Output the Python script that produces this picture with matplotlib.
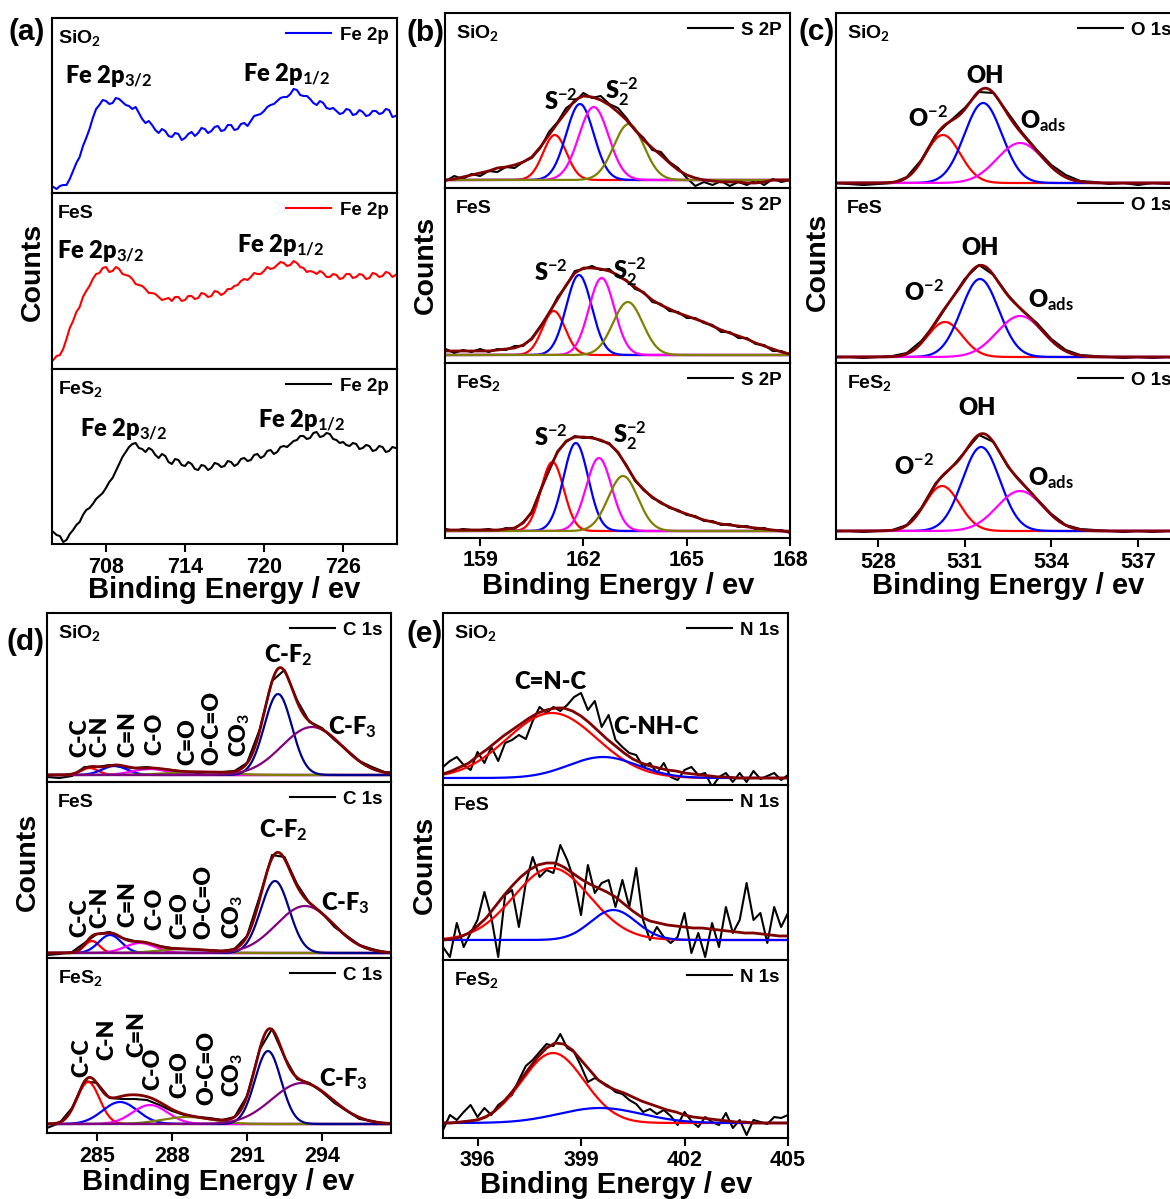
import numpy as np
import matplotlib.pyplot as plt

plt.rcParams['font.family'] = ['Liberation Sans', 'DejaVu Sans']
plt.rcParams['font.weight'] = 'bold'
plt.rcParams['mathtext.fontset'] = 'custom'
plt.rcParams['mathtext.rm'] = 'Lato:bold'
plt.rcParams['mathtext.it'] = 'Lato:bold'
plt.rcParams['mathtext.bf'] = 'Lato:bold'
plt.rcParams['axes.linewidth'] = 1.5

# ---------------- (a) Fe 2p raw spectra ----------------
fe_energy = np.arange(704, 730.01, 0.25)
fe_sio2 = [6, 4, 7, 8, 8, 14, 22, 30, 36, 47, 55, 64, 75, 84, 88, 93, 92, 89, 90, 95,
           94, 91, 88, 87, 84, 86, 80, 74, 70, 72, 68, 63, 60, 64, 62, 57, 56, 60, 59, 53,
           55, 59, 61, 57, 60, 65, 64, 60, 62, 66, 67, 62, 63, 68, 68, 63, 64, 69, 70, 67,
           72, 77, 78, 79, 82, 86, 88, 89, 92, 95, 96, 96, 99, 104, 103, 98, 97, 97, 94, 90,
           88, 92, 90, 85, 84, 85, 82, 79, 80, 84, 83, 78, 79, 83, 81, 77, 78, 82, 82, 79,
           80, 84, 83, 76, 77]
fe_fes = [9, 13, 14, 20, 30, 41, 48, 57, 62, 72, 78, 83, 90, 95, 96, 101, 102, 97, 98, 102,
          100, 95, 94, 93, 90, 85, 84, 83, 80, 76, 76, 75, 72, 69, 70, 71, 68, 72, 72, 68,
          69, 73, 73, 70, 71, 76, 75, 72, 73, 78, 77, 74, 76, 80, 80, 83, 84, 88, 90, 89,
          92, 96, 95, 95, 98, 102, 100, 101, 104, 107, 106, 103, 104, 108, 106, 102, 101, 97, 98, 97,
          95, 98, 96, 92, 92, 95, 94, 90, 91, 95, 95, 91, 92, 95, 94, 90, 91, 96, 95, 92,
          93, 97, 96, 92, 94]
fe_fes2 = [12, 9, 8, 2, 4, 10, 14, 19, 22, 29, 34, 36, 40, 45, 48, 51, 56, 62, 66, 73,
           80, 87, 92, 97, 100, 101, 96, 95, 92, 96, 94, 89, 86, 90, 88, 82, 80, 85, 84, 79,
           78, 82, 80, 75, 74, 79, 78, 74, 76, 81, 80, 77, 78, 83, 82, 78, 80, 85, 86, 83,
           84, 89, 90, 86, 88, 93, 94, 90, 92, 97, 98, 97, 100, 103, 104, 108, 108, 105, 106, 111,
           112, 107, 108, 111, 110, 105, 104, 101, 102, 99, 98, 101, 100, 95, 96, 99, 98, 93, 94, 98,
           97, 92, 93, 97, 96]

# ---------------- (b) S 2p ----------------
s_energy = np.arange(158, 168.01, 0.25)
s_raw_sio2 = [7, 12, 9, 14, 12, 17, 16, 21, 20, 26, 30, 40, 56, 66, 80, 86, 95, 90, 92, 84,
              80, 70, 58, 50, 38, 36, 26, 20, 10, 2, 6, 3, 7, 2, 6, 3, 8, 3, 9, 6, 8]
s_env_sio2 = [8, 9, 11, 13, 15, 17, 20, 21, 23, 26, 31, 41, 53, 65, 76, 88, 92, 91, 88, 83,
              76, 68, 58, 48, 40, 33, 25, 18, 13, 10, 8, 7, 6, 6, 6, 5, 5, 6, 8, 8, 8]
s_raw_fes = [14, 10, 13, 11, 14, 11, 14, 13, 17, 17, 25, 37, 49, 66, 77, 92, 94, 97, 93, 94,
             86, 83, 74, 71, 61, 59, 52, 51, 45, 45, 40, 38, 31, 31, 25, 25, 19, 18, 12, 12, 8]
s_env_fes = [12, 12, 12, 12, 12, 12, 13, 14, 15, 18, 24, 36, 50, 64, 78, 90, 95, 95, 94, 92,
             88, 82, 76, 70, 63, 58, 54, 50, 47, 44, 41, 37, 33, 30, 27, 24, 20, 17, 14, 11, 9]
s_raw_fes2 = [9, 7, 9, 8, 8, 9, 7, 10, 9, 16, 25, 48, 67, 87, 96, 102, 100, 101, 97, 95,
              85, 73, 57, 49, 40, 36, 30, 28, 23, 22, 17, 17, 13, 14, 11, 12, 9, 10, 7, 8, 5]
s_env_fes2 = [8, 8, 8, 8, 8, 8, 8, 9, 10, 15, 26, 47, 68, 86, 97, 101, 101, 100, 98, 94,
              86, 72, 58, 48, 41, 35, 31, 27, 24, 21, 18, 16, 14, 13, 12, 11, 10, 9, 8, 7, 6]
# fitted peaks: red, blue, magenta, olive
s_base = [8, 8, 7]
s_centers_sio2 = [161.17, 161.9, 162.3, 163.32]
s_heights_sio2 = [45, 76, 73, 56]
s_widths_sio2 = [0.34, 0.40, 0.43, 0.44]
s_centers_fes = [161.14, 161.87, 162.53, 163.29]
s_heights_fes = [44, 80, 77, 53]
s_widths_fes = [0.33, 0.37, 0.37, 0.43]
s_centers_fes2 = [161.1, 161.78, 162.45, 163.15]
s_heights_fes2 = [69, 88, 73, 55]
s_widths_fes2 = [0.33, 0.36, 0.37, 0.43]

# ---------------- (c) O 1s ----------------
o_energy = np.arange(526.5, 539.01, 0.5)
o_raw_sio2 = [5, 4, 3, 4, 5, 11, 28, 53, 67, 80, 96, 95, 75, 55, 38, 23, 13, 7, 6, 4, 5, 3, 5, 4, 5, 5]
o_raw_fes = [6, 6, 5, 6, 7, 10, 22, 40, 62, 84, 98, 88, 68, 52, 40, 24, 13, 8, 7, 6, 5, 6, 5, 6, 5, 6]
o_raw_fes2 = [8, 8, 7, 8, 9, 14, 31, 56, 70, 87, 104, 97, 72, 56, 40, 25, 14, 10, 9, 8, 7, 8, 7, 8, 8, 7]
# fitted peaks: red (O-2), blue (OH), magenta (Oads)
o_base = [5, 6, 8]
o_centers_sio2 = [530.25, 531.64, 532.92]
o_heights_sio2 = [48, 80, 40]
o_centers_fes = [530.32, 531.53, 532.92]
o_heights_fes = [35, 78, 41]
o_centers_fes2 = [530.22, 531.57, 532.92]
o_heights_fes2 = [45, 84, 40]
o_widths = [0.6, 0.65, 0.8]

# ---------------- (d) C 1s ----------------
c_energy = np.arange(283, 297.01, 0.5)
c_raw_sio2 = [5, 4, 6, 15, 15, 17, 15, 14, 15, 13, 12, 10, 9, 10, 10, 11, 19, 52, 101, 112,
              82, 60, 54, 42, 32, 21, 15, 10, 9]
c_raw_fes = [3, 4, 6, 15, 24, 26, 20, 17, 15, 12, 10, 9, 8, 8, 7, 9, 22, 61, 103, 101,
             74, 55, 45, 31, 22, 13, 9, 6, 5]
c_raw_fes2 = [5, 10, 25, 52, 50, 35, 34, 34, 33, 28, 22, 18, 16, 15, 13, 16, 37, 83, 104, 76,
              54, 50, 41, 30, 22, 14, 12, 9, 10]
# fitted peaks: red, blue, magenta, olive, navy (C-F2), purple (C-F3)
c_base = [7, 5, 9]
c_centers_sio2 = [284.7, 285.7, 287.1, 289.0, 292.24, 293.6]
c_heights_sio2 = [7, 9, 6, 3, 81, 48]
c_widths_sio2 = [0.35, 0.5, 0.7, 1.2, 0.55, 1.2]
c_centers_fes = [284.8, 285.52, 286.72, 288.5, 292.12, 293.32]
c_heights_fes = [12, 18, 10, 4, 72, 47]
c_widths_fes = [0.3, 0.45, 0.6, 1.0, 0.57, 1.15]
c_centers_fes2 = [284.65, 285.92, 287.12, 288.6, 291.84, 293.2]
c_heights_fes2 = [42, 22, 19, 7, 73, 41]
c_widths_fes2 = [0.45, 0.7, 0.7, 1.0, 0.52, 1.2]

# ---------------- (e) N 1s ----------------
n_energy = np.arange(395, 405.01, 0.2)
n_raw_sio2 = [18, 24, 28, 20, 15, 33, 22, 38, 24, 42, 45, 50, 46, 64, 78, 72, 78, 74, 80, 88,
              92, 75, 84, 58, 70, 45, 38, 32, 30, 18, 22, 12, 22, 8, 5, 15, 18, 10, 12, -2,
              8, 12, 3, 12, 3, 14, 6, 9, 12, 5, 10]
n_raw_fes = [13, 3, 37, 13, 27, 40, 68, 43, 3, 65, 70, 33, 77, 103, 83, 90, 87, 115, 100, 80,
             45, 95, 67, 77, 80, 53, 80, 53, 92, 40, 20, 33, 23, 17, 23, 47, 7, 27, 3, 37,
             13, 53, 27, 40, 77, 40, 47, 17, 53, 33, 47]
n_raw_fes2 = [8, 23, 18, 26, 33, 21, 30, 23, 33, 38, 43, 58, 72, 78, 86, 94, 92, 104, 90, 86,
              72, 56, 60, 56, 52, 46, 44, 38, 34, 26, 29, 24, 28, 22, 13, 26, 17, 11, 21, 16,
              13, 25, 10, 18, 3, 18, 16, 14, 21, 20, 23]
n_env_energy = np.arange(395, 405.01, 0.25)
n_env_sio2 = [11, 14, 18, 22, 29, 35, 42, 49, 55, 61, 67, 72, 75, 77, 77, 74, 69, 62, 54, 46,
              39, 32, 26, 22, 19, 17, 15, 14, 12, 11, 10, 9, 8, 8, 7, 7, 7, 7, 7, 7, 7]
n_env_fes = [20, 21, 23, 27, 34, 42, 53, 64, 74, 83, 90, 95, 97, 97, 93, 87, 81, 76, 72, 68,
             63, 56, 49, 43, 39, 37, 35, 34, 33, 32, 32, 31, 30, 29, 28, 27, 27, 26, 25, 24, 24]
n_env_fes2 = [15, 15, 16, 17, 18, 21, 27, 36, 46, 58, 70, 81, 90, 95, 94, 88, 78, 68, 58, 52,
              48, 45, 41, 37, 34, 31, 28, 26, 23, 21, 20, 19, 18, 17, 16, 16, 15, 15, 15, 15, 15]
# fitted peaks: red (C=N-C), blue (C-NH-C)
n_base = [7, 20, 15]
n_centers_sio2 = [398.16, 399.64]
n_heights_sio2 = [65, 21]
n_widths_sio2 = [1.3, 1.0]
n_centers_fes = [398.15, 399.94]
n_heights_fes = [72, 30]
n_widths_fes = [1.1, 0.66]
n_centers_fes2 = [398.19, 399.55]
n_heights_fes2 = [70, 15]
n_widths_fes2 = [0.9, 1.2]

samples = ['SiO$_2$', 'FeS', 'FeS$_2$']
brown = '#800000'

W, H = 1170, 1199
fig = plt.figure(figsize=(W / 100, H / 100), dpi=100)


def column(left, right, ys, xlim, ticks):
    axs = []
    for i, (top, bot) in enumerate(zip(ys[:-1], ys[1:])):
        ax = fig.add_axes([left / W, 1 - bot / H, (right - left) / W, (bot - top) / H])
        ax.set_xlim(*xlim)
        ax.set_ylim(0, bot - top)
        ax.set_yticks([])
        ax.set_xticks(ticks)
        last = i == 2
        ax.tick_params(axis='x', direction='out', length=6, width=1.5, labelsize=15.5,
                       bottom=last, labelbottom=last, pad=3)
        axs.append(ax)
    return axs


def decorate(ax, name, dx):
    ax.annotate(name, xy=(0, 1), xycoords='axes fraction', xytext=(dx, -14.5),
                textcoords='offset points', ha='left', va='center', fontsize=14)
    ax.legend(loc='upper right', frameon=False, fontsize=13.5, handlelength=2.4,
              handletextpad=0.45, borderaxespad=0.15, borderpad=0.3)


def draw_fit(ax, energy, raw, base, centers, heights, widths, colors, label,
             env_energy=None, env=None):
    x0, x1 = ax.get_xlim()
    fine = np.linspace(x0, x1, 800)
    ax.plot(energy, raw, color='black', lw=1.5, label=label)
    total = np.full_like(fine, base, dtype=float)
    for c, h, w, col in zip(centers, heights, widths, colors):
        g = h * np.exp(-(fine - c) ** 2 / (2 * w ** 2))
        total += g
        ax.plot(fine, base + g, color=col, lw=1.6)
    if env is None:
        ax.plot(fine, total, color=brown, lw=2)
    else:
        ax.plot(env_energy, env, color=brown, lw=2)


def note(ax, x, y, s, size=17, **kw):
    ax.text(x, y, s, family=['Lato', 'DejaVu Sans'], fontsize=size, fontweight='heavy', **kw)


# ---------------- panel (a) ----------------
axa = column(52, 397, [18, 193, 369, 544], (703.9, 730.1), [708, 714, 720, 726])
for ax, y, col, name in zip(axa, [fe_sio2, fe_fes, fe_fes2], ['blue', 'red', 'black'], samples):
    ax.plot(fe_energy, y, color=col, lw=1.5, label='Fe 2p')
    decorate(ax, name, 4)
fe_notes = [[(704.85, 109), (718.4, 111)], [(704.3, 110), (717.95, 116)], [(706.05, 107), (719.55, 116)]]
for ax, pos in zip(axa, fe_notes):
    note(ax, pos[0][0], pos[0][1], 'Fe 2p$_{3/2}$', ha='left', va='baseline')
    note(ax, pos[1][0], pos[1][1], 'Fe 2p$_{1/2}$', ha='left', va='baseline')

# ---------------- panel (b) ----------------
axb = column(445, 790, [13, 188, 363, 538], (157.98, 168.0), [159, 162, 165, 168])
s_cols = ['red', 'blue', 'magenta', '#808000']
s_data = [(s_raw_sio2, s_env_sio2, s_centers_sio2, s_heights_sio2, s_widths_sio2),
          (s_raw_fes, s_env_fes, s_centers_fes, s_heights_fes, s_widths_fes),
          (s_raw_fes2, s_env_fes2, s_centers_fes2, s_heights_fes2, s_widths_fes2)]
s_notes = [[(160.85, 78), (162.62, 88)], [(160.56, 82), (162.85, 84)], [(160.56, 92), (162.85, 94)]]
for ax, (raw, env, cen, hei, wid), base, name, pos in zip(axb, s_data, s_base, samples, s_notes):
    draw_fit(ax, s_energy, raw, base, cen, hei, wid, s_cols, 'S 2P', s_energy, env)
    decorate(ax, name, 8)
    note(ax, pos[0][0], pos[0][1], 'S$^{-2}$', ha='left', va='baseline')
    note(ax, pos[1][0], pos[1][1], 'S$_2^{-2}$', ha='left', va='baseline')

# ---------------- panel (c) ----------------
axc = column(836, 1180, [13, 188, 363, 539], (526.55, 538.45), [528, 531, 534, 537])
o_cols = ['red', 'blue', 'magenta']
o_data = [(o_raw_sio2, o_centers_sio2, o_heights_sio2),
          (o_raw_fes, o_centers_fes, o_heights_fes),
          (o_raw_fes2, o_centers_fes2, o_heights_fes2)]
o_notes = [[(529.05, 61), (531.05, 105), (532.92, 60)],
           [(528.9, 62), (530.87, 108), (533.19, 56)],
           [(528.56, 64), (530.8, 124), (533.19, 54)]]
for ax, (raw, cen, hei), base, name, pos in zip(axc, o_data, o_base, samples, o_notes):
    draw_fit(ax, o_energy, raw, base, cen, hei, o_widths, o_cols, 'O 1s')
    decorate(ax, name, 8)
    note(ax, pos[0][0], pos[0][1], 'O$^{-2}$', ha='left', va='baseline')
    note(ax, pos[1][0], pos[1][1], 'OH', ha='left', va='baseline')
    note(ax, pos[2][0], pos[2][1], 'O$_{\\mathrm{ads}}$', ha='left', va='baseline')

# ---------------- panel (d) ----------------
axd = column(47, 391, [613, 782, 958, 1133], (283.0, 296.76), [285, 288, 291, 294])
c_cols = ['red', 'blue', 'magenta', '#808000', '#00008B', '#800080']
c_data = [(c_raw_sio2, c_centers_sio2, c_heights_sio2, c_widths_sio2),
          (c_raw_fes, c_centers_fes, c_heights_fes, c_widths_fes),
          (c_raw_fes2, c_centers_fes2, c_heights_fes2, c_widths_fes2)]
bond_labels = ['C-C', 'C-N', 'C=N', 'C-O', 'C=O', 'O-C=O', 'CO$_3$']
bond_x = [[284.32, 285.12, 286.24, 287.32, 288.64, 289.6, 290.72],
          [284.32, 285.12, 286.24, 287.32, 288.32, 289.28, 290.44],
          [284.4, 285.4, 286.6, 287.24, 288.32, 289.4, 290.44]]
bond_y = [[25, 25, 25, 27, 17, 17, 25],
          [21, 30, 31, 28, 19, 19, 19],
          [56, 73, 76, 43, 35, 28, 36]]
cf2_pos = [(292.64, 127), (292.44, 128), None]
cf3_pos = [(295.2, 55), (294.92, 55), (294.84, 54)]
for i, (ax, (raw, cen, hei, wid), base, name) in enumerate(zip(axd, c_data, c_base, samples)):
    draw_fit(ax, c_energy, raw, base, cen, hei, wid, c_cols, 'C 1s')
    decorate(ax, name, 8)
    for lab, bx, by in zip(bond_labels, bond_x[i], bond_y[i]):
        note(ax, bx, by, lab, size=16.5, rotation=90, ha='center', va='bottom')
    if cf2_pos[i]:
        note(ax, cf2_pos[i][0], cf2_pos[i][1], 'C-F$_2$', ha='center', va='center')
    note(ax, cf3_pos[i][0], cf3_pos[i][1], 'C-F$_3$', ha='center', va='center')

# ---------------- panel (e) ----------------
axe = column(443, 788, [613, 785, 960, 1138], (395.0, 405.0), [396, 399, 402, 405])
n_cols = ['red', 'blue']
n_data = [(n_raw_sio2, n_env_sio2, n_centers_sio2, n_heights_sio2, n_widths_sio2),
          (n_raw_fes, n_env_fes, n_centers_fes, n_heights_fes, n_widths_fes),
          (n_raw_fes2, n_env_fes2, n_centers_fes2, n_heights_fes2, n_widths_fes2)]
for ax, (raw, env, cen, hei, wid), base, name in zip(axe, n_data, n_base, samples):
    draw_fit(ax, n_energy, raw, base, cen, hei, wid, n_cols, 'N 1s', n_env_energy, env)
    decorate(ax, name, 8)
note(axe[0], 398.1, 103, 'C=N-C', ha='center', va='center')
note(axe[0], 401.17, 58, 'C-NH-C', ha='center', va='center')

# ---------------- figure labels ----------------
for x, y, s in [(27, 32, '(a)'), (425, 33, '(b)'), (817, 32, '(c)'), (25, 642, '(d)'), (425, 634, '(e)')]:
    fig.text(x / W, 1 - y / H, s, fontsize=21.5, ha='center', va='center')
for x, y in [(33, 272), (426, 265), (818, 262), (28, 862), (425, 865)]:
    fig.text(x / W, 1 - y / H, 'Counts', fontsize=20.5, rotation=90, ha='center', va='center')
for x, y in [(224, 590), (618, 586), (1008, 586), (218, 1182), (616, 1185)]:
    fig.text(x / W, 1 - y / H, 'Binding Energy / ev', fontsize=21, ha='center', va='center')

fig.savefig('out.png', dpi=100)
